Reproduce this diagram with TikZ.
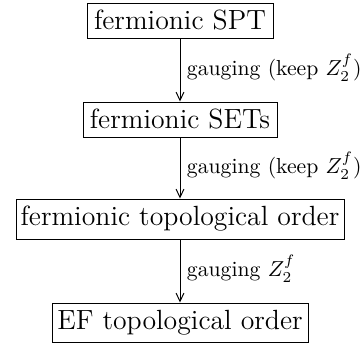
\documentclass[tikz,border=0pt]{standalone}
\usetikzlibrary{arrows.meta}
\begin{document}
\begin{tikzpicture}[x=0.461pt,y=-0.461pt,
  stepbox/.style={draw, line width=0.45pt, inner sep=0pt, font=\fontsize{12.8}{15}\selectfont},
  flow/.style={draw, line width=0.45pt, -{Straight Barb[length=3.8pt,width=3.6pt,line width=0.45pt]}},
  lbl/.style={right, inner sep=2pt, xshift=1pt, yshift=1pt, font=\fontsize{10}{12}\selectfont}]
\useasboundingbox (0,0) rectangle (363,344);
\node[stepbox, minimum width=186*0.461pt, minimum height=35*0.461pt] (a) at (180,20.5) {fermionic SPT};
\node[stepbox, minimum width=194*0.461pt, minimum height=35*0.461pt] (b) at (180,119.5) {fermionic SETs};
\node[stepbox, minimum width=328*0.461pt, minimum height=40*0.461pt] (c) at (180,219) {fermionic topological order};
\node[stepbox, minimum width=256*0.461pt, minimum height=39*0.461pt] (d) at (180,322.5) {EF topological order};
\draw[flow] (a) -- node[lbl] (la) {gauging (keep $Z_2^f$)} (b);
\draw[flow] (b) -- node[lbl] (lb) {gauging (keep $Z_2^f$)} (c);
\draw[flow] (c) -- node[lbl] (lc) {gauging $Z_2^f$} (d);
\end{tikzpicture}
\end{document}
